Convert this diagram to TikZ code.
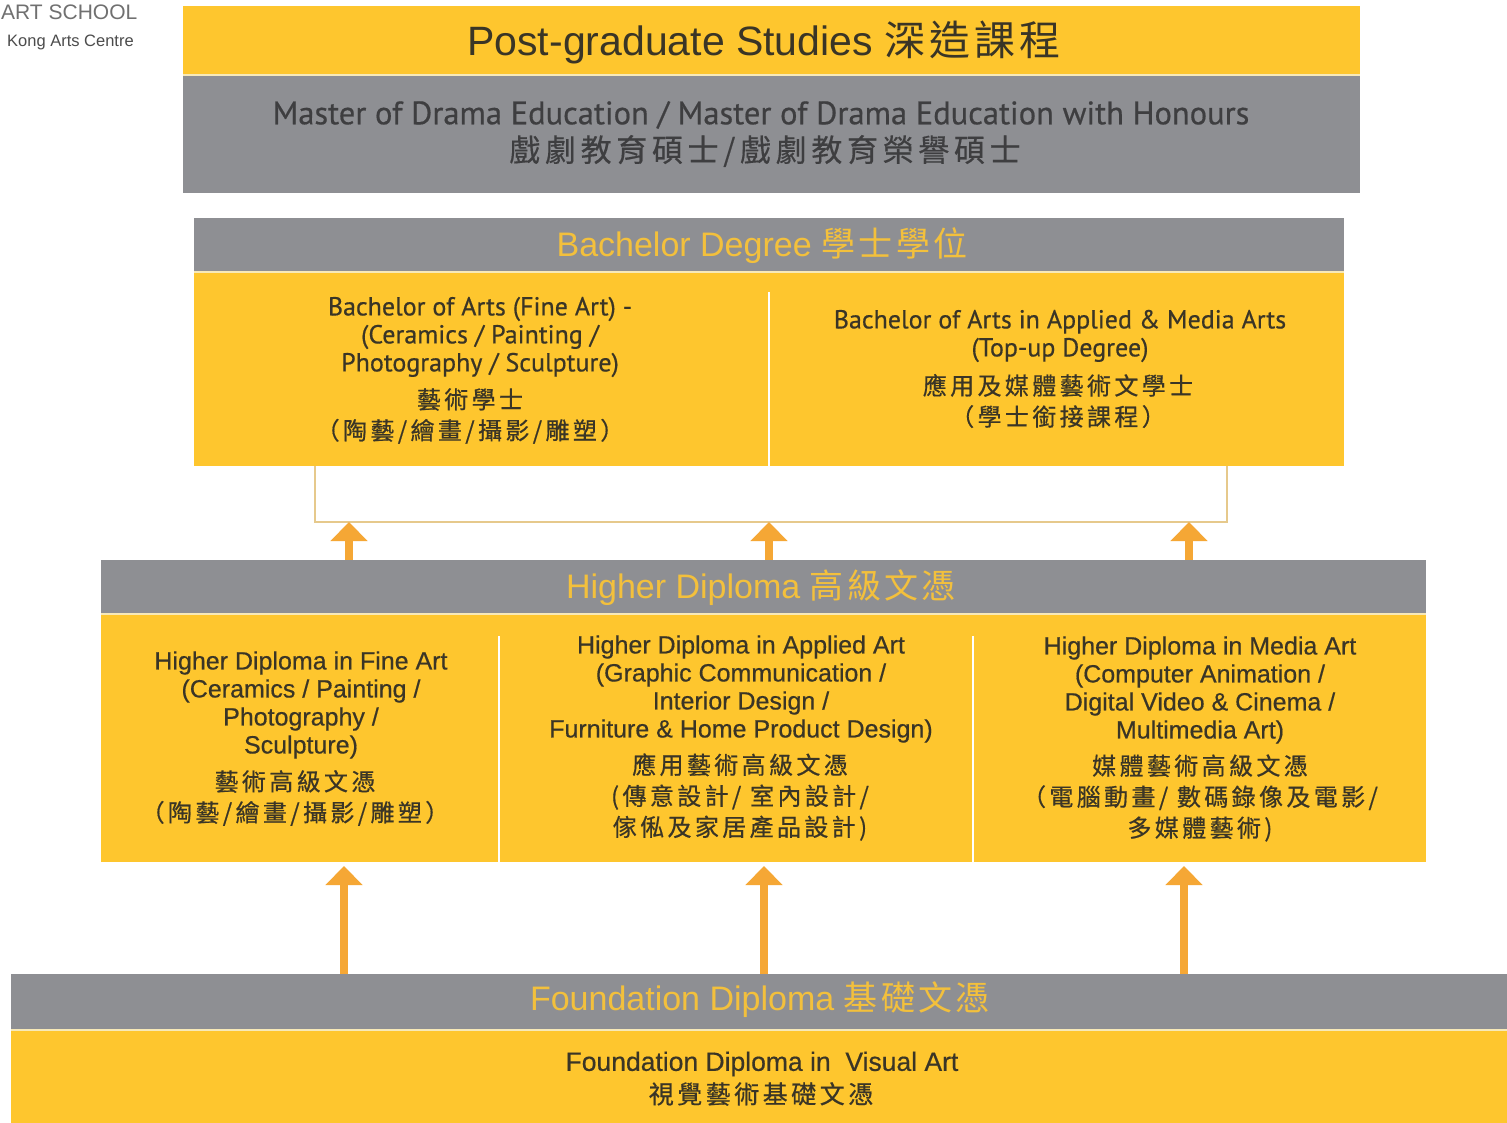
\documentclass[tikz,border=0pt]{standalone}
\usepackage{fontspec}
\setmainfont{Liberation Sans}
\newfontfamily\latb[FakeBold=0.5]{Liberation Sans}
\newfontfamily\myr[FakeBold=0.5]{PT Sans}
\newfontfamily\cjk{Noto Sans CJK TC}
\newfontfamily\cjksp[LetterSpace=14,FakeBold=0.6]{Noto Sans CJK TC}
\newfontfamily\cjkh[LetterSpace=10]{Noto Sans CJK TC}
\newfontfamily\cjkm[LetterSpace=15,FakeBold=0.4]{Noto Sans CJK TC}
\usetikzlibrary{arrows.meta}
\definecolor{yel}{HTML}{FEC62E}
\definecolor{gry}{HTML}{8E8F93}
\definecolor{txt}{HTML}{3A3526}
\definecolor{mtxt}{HTML}{3E3E40}
\definecolor{htxt}{HTML}{F3C03C}
\definecolor{arr}{HTML}{F5A735}
\definecolor{brk}{HTML}{E6C98C}
\definecolor{logo}{HTML}{707070}
\definecolor{sepc}{HTML}{F7E9B8}
\begin{document}
\begin{tikzpicture}[x=1pt,y=-1pt,
  band/.style={draw=none,inner sep=0pt,outer sep=0pt,anchor=north west},
  lat/.style={font=\latb\fontsize{25}{28}\selectfont,text=txt,align=center,inner sep=0pt},
  myrt/.style={font=\myr\fontsize{26}{28}\selectfont,text=txt,align=center,inner sep=0pt},
  cj/.style={font=\cjksp\fontsize{24}{31}\selectfont,text=txt,align=center,inner sep=0pt},
  head/.style={font=\fontsize{34}{36}\selectfont,text=htxt,inner sep=0pt},
  sepline/.style={draw=sepc,line width=2pt},
  divline/.style={draw=white,line width=2pt},
  bigarr/.style={draw=arr,line width=8pt,-{Triangle[width=36pt,length=19pt]}},
  brkline/.style={draw=brk,line width=1.5pt}]
\fill[white] (0,0) rectangle (1507,1123);
\useasboundingbox (0,0) rectangle (1507,1123);

% logo text
\node[anchor=west,inner sep=0pt,text=logo,font=\fontsize{21}{24}\selectfont] (logo1) at (1,12) {ART SCHOOL};
\node[anchor=west,inner sep=0pt,text=black!70,font=\fontsize{16.5}{20}\selectfont] (logo2) at (7,42) {Kong Arts Centre};

% bands
\node[band,fill=yel,minimum width=1177pt,minimum height=69pt] (pg) at (183,6) {};
\node[band,fill=gry,minimum width=1177pt,minimum height=118pt] (ma) at (183,75) {};
\node[band,fill=gry,minimum width=1150pt,minimum height=54pt] (bh) at (194,218) {};
\node[band,fill=yel,minimum width=1150pt,minimum height=194pt] (bb) at (194,272) {};
\node[band,fill=gry,minimum width=1325pt,minimum height=54pt] (hh) at (101,560) {};
\node[band,fill=yel,minimum width=1325pt,minimum height=248pt] (hb) at (101,614) {};
\node[band,fill=gry,minimum width=1496pt,minimum height=56pt] (fh) at (11,974) {};
\node[band,fill=yel,minimum width=1496pt,minimum height=93pt] (fb) at (11,1030) {};

% separators
\draw[sepline] (pg.south west) -- (pg.south east);
\draw[sepline] (bh.south west) -- (bh.south east);
\draw[sepline] (hh.south west) -- (hh.south east);
\draw[sepline] (fh.south west) -- (fh.south east);
\draw[divline] (769,292) -- (769,466);
\draw[divline] (499,636) -- (499,862);
\draw[divline] (973,636) -- (973,862);

% bracket
\coordinate (bl) at (315,522);
\coordinate (br) at (1227,522);
\draw[brkline] (bb.south -| bl) -- (bl) -- (br) -- (bb.south -| br);

% arrows
\coordinate (u1) at (349,522);
\coordinate (u2) at (769,522);
\coordinate (u3) at (1189,522);
\draw[bigarr] (hh.north -| u1) -- (u1);
\draw[bigarr] (hh.north -| u2) -- (u2);
\draw[bigarr] (hh.north -| u3) -- (u3);
\coordinate (d1) at (344,866);
\coordinate (d2) at (764,866);
\coordinate (d3) at (1184,866);
\draw[bigarr] (fh.north -| d1) -- (d1);
\draw[bigarr] (fh.north -| d2) -- (d2);
\draw[bigarr] (fh.north -| d3) -- (d3);

% post-graduate
\node[inner sep=0pt,text=txt,font=\fontsize{41}{46}\selectfont] (pgt) at (764,42) {Post-graduate Studies {\cjkh 深造課程}};
\node[inner sep=0pt,text=mtxt,font=\myr\fontsize{32.5}{34}\selectfont] (mat1) at (761,115) {Master of Drama Education / Master of Drama Education with Honours};
\node[inner sep=0pt,text=mtxt,font=\cjkm\fontsize{31}{34}\selectfont] (mat2) at (765,151) {戲劇教育碩士/戲劇教育榮譽碩士};

% bachelor
\node[head] (bht) at (762,246) {Bachelor Degree {\cjkh 學士學位}};
\node[myrt] (b1e) at (480,337) {Bachelor of Arts (Fine Art) -\\(Ceramics / Painting /\\Photography / Sculpture)};
\node[cj] (b1c) at (470,416) {藝術學士\\（陶藝/繪畫/攝影/雕塑）};
\node[myrt] (b2e) at (1060,336) {Bachelor of Arts in Applied \& Media Arts\\(Top-up Degree)};
\node[cj] (b2c) at (1058,401) {應用及媒體藝術文學士\\（學士銜接課程）};

% higher diploma
\node[head] (hht) at (761,588) {Higher Diploma {\cjkh 高級文憑}};
\node[lat] (h1e) at (301,705) {Higher Diploma in Fine Art\\(Ceramics / Painting /\\Photography /\\Sculpture)};
\node[cj] (h1c) at (295,798) {藝術高級文憑\\（陶藝/繪畫/攝影/雕塑）};
\node[lat] (h2e) at (741,689) {Higher Diploma in Applied Art\\(Graphic Communication /\\Interior Design /\\Furniture \& Home Product Design)};
\node[cj] (h2c) at (740,797) {應用藝術高級文憑\\(傳意設計/ 室內設計/\\傢俬及家居產品設計)};
\node[lat] (h3e) at (1200,690) {Higher Diploma in Media Art\\(Computer Animation /\\Digital Video \& Cinema /\\Multimedia Art)};
\node[cj] (h3c) at (1200,798) {媒體藝術高級文憑\\（電腦動畫/ 數碼錄像及電影/\\多媒體藝術)};

% foundation
\node[head] (fht) at (760,1000) {Foundation Diploma {\cjkh 基礎文憑}};
\node[lat,font=\latb\fontsize{26.5}{30}\selectfont] (fe) at (762,1064) {Foundation Diploma in\ \ Visual Art};
\node[cj,font=\cjksp\fontsize{25}{30}\selectfont] (fc) at (761,1094) {視覺藝術基礎文憑};
\end{tikzpicture}
\end{document}
